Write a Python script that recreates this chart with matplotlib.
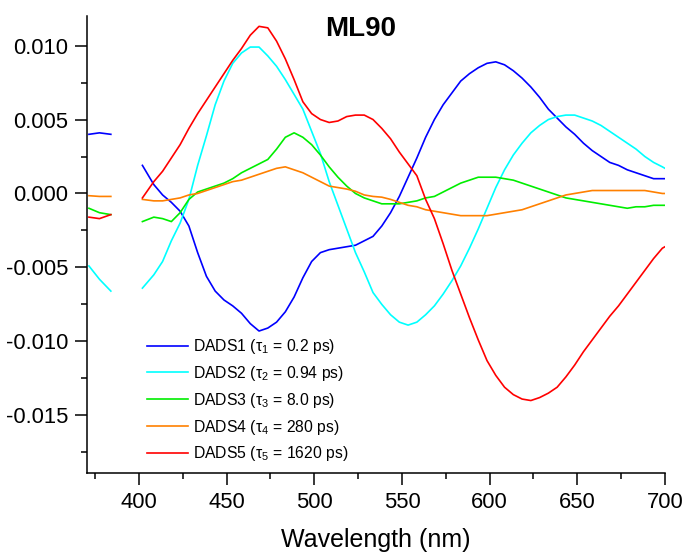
import numpy as np
import matplotlib
matplotlib.use('Agg')
import matplotlib.pyplot as plt
from matplotlib.ticker import MultipleLocator, FuncFormatter

plt.rcParams['font.family'] = ['Liberation Sans', 'DejaVu Sans']
plt.rcParams['mathtext.default'] = 'regular'

# ---- data ----
wl_short = [371.5, 377.5, 384.0]
wl_long = [402] + [408.5 + 5 * k for k in range(59)] + [700]

dads1_short = [0.0040, 0.0041, 0.0040]
dads2_short = [-0.0049, -0.0058, -0.0066]
dads3_short = [-0.0010, -0.0013, -0.00143]
dads4_short = [-0.00015, -0.0002, -0.0002]
dads5_short = [-0.0016, -0.0017, -0.00143]

dads1_long = [0.0019, 0.0006, -0.0001, -0.0006, -0.0012, -0.0022, -0.0040, -0.0056, -0.0066, -0.0072,
              -0.0076, -0.0081, -0.0088, -0.0093, -0.0091, -0.0087, -0.0080, -0.0070, -0.0057, -0.0046,
              -0.0040, -0.0038, -0.0037, -0.0036, -0.0035, -0.0032, -0.0029, -0.0022, -0.0013, -0.0002,
              0.0011, 0.0024, 0.0038, 0.0050, 0.0060, 0.0068, 0.0076, 0.0081, 0.0085, 0.0088,
              0.0089, 0.0087, 0.0083, 0.0078, 0.0072, 0.0065, 0.0057, 0.0051, 0.0045, 0.0040,
              0.0034, 0.0029, 0.0025, 0.0021, 0.0019, 0.0016, 0.0014, 0.0012, 0.0010, 0.0010, 0.0010]
dads2_long = [-0.0064, -0.0055, -0.0046, -0.0032, -0.0020, -0.0004, 0.0019, 0.0039, 0.0060, 0.0076,
              0.0088, 0.0095, 0.0099, 0.0099, 0.0093, 0.0086, 0.0077, 0.0067, 0.0057, 0.0042,
              0.0027, 0.0008, -0.0008, -0.0024, -0.0040, -0.0053, -0.0067, -0.0075, -0.0082, -0.0087,
              -0.0089, -0.0087, -0.0082, -0.0076, -0.0068, -0.0059, -0.0049, -0.0037, -0.0024, -0.0010,
              0.0004, 0.0016, 0.0026, 0.0034, 0.0041, 0.0046, 0.0050, 0.0052, 0.0053, 0.0053,
              0.0051, 0.0049, 0.0046, 0.0042, 0.0038, 0.0034, 0.0030, 0.0025, 0.0021, 0.0018, 0.0017]
dads3_long = [-0.0019, -0.0016, -0.0017, -0.0019, -0.0013, -0.0004, 0.0001, 0.0003, 0.0005, 0.0007,
              0.0010, 0.0014, 0.0017, 0.0020, 0.0023, 0.0030, 0.0038, 0.0041, 0.0038, 0.0033,
              0.0026, 0.0018, 0.0011, 0.0005, 0.0000, -0.0003, -0.0005, -0.0007, -0.0007, -0.0007,
              -0.0006, -0.0005, -0.0003, -0.0002, 0.0001, 0.0004, 0.0007, 0.0009, 0.0011, 0.0011,
              0.0011, 0.0010, 0.0009, 0.0007, 0.0005, 0.0003, 0.0001, -0.0001, -0.0003, -0.0004,
              -0.0005, -0.0006, -0.0007, -0.0008, -0.0009, -0.0010, -0.0009, -0.0009, -0.0008, -0.0008, -0.0008]
dads4_long = [-0.0004, -0.0005, -0.0005, -0.0004, -0.0003, -0.0001, 0.0000, 0.0002, 0.0004, 0.0006,
              0.0008, 0.0009, 0.0011, 0.0013, 0.0015, 0.0017, 0.0018, 0.0016, 0.0014, 0.0011,
              0.0008, 0.0005, 0.0004, 0.0003, 0.00015, -0.0001, -0.0002, -0.00025, -0.0004, -0.0006,
              -0.0008, -0.0009, -0.0011, -0.0012, -0.0013, -0.0014, -0.0015, -0.0015, -0.0015, -0.0015,
              -0.0014, -0.0013, -0.0012, -0.0011, -0.0009, -0.0007, -0.0005, -0.0003, -0.0001, 0.0000,
              0.0001, 0.0002, 0.0002, 0.0002, 0.0002, 0.0002, 0.0002, 0.0002, 0.0001, 0.0000, 0.0000]
dads5_long = [-0.0003, 0.0008, 0.0015, 0.0024, 0.0033, 0.0044, 0.0054, 0.0063, 0.0072, 0.0081,
              0.0090, 0.0098, 0.0107, 0.0113, 0.0112, 0.0103, 0.0091, 0.0077, 0.0062, 0.0054,
              0.0050, 0.0048, 0.0049, 0.0052, 0.0053, 0.0053, 0.0050, 0.0044, 0.0037, 0.0028,
              0.0020, 0.0012, -0.0004, -0.0017, -0.0034, -0.0052, -0.0068, -0.0084, -0.0099, -0.0113,
              -0.0123, -0.0131, -0.0136, -0.0139, -0.0140, -0.0138, -0.0135, -0.0131, -0.0124, -0.0116,
              -0.0107, -0.0099, -0.0091, -0.0083, -0.0076, -0.0068, -0.0060, -0.0052, -0.0044, -0.0037, -0.0036]

labels = ['DADS1 (τ$_1$ = 0.2 ps)', 'DADS2 (τ$_2$ = 0.94 ps)', 'DADS3 (τ$_3$ = 8.0 ps)',
          'DADS4 (τ$_4$ = 280 ps)', 'DADS5 (τ$_5$ = 1620 ps)']
colors = ['#0000ff', '#00ffff', '#00ee00', '#ff8000', '#ff0000']
title = 'ML90'
xlabel = 'Wavelength (nm)'

shorts = [dads1_short, dads2_short, dads3_short, dads4_short, dads5_short]
longs = [dads1_long, dads2_long, dads3_long, dads4_long, dads5_long]

# ---- figure ----
fig = plt.figure(figsize=(6.84, 5.56), dpi=100)
ax = fig.add_axes([87/684, 1 - 473/556, (665 - 87)/684, (473 - 16)/556])

wl = np.array(wl_short + [np.nan] + wl_long)
for s, l, lab, c in zip(shorts, longs, labels, colors):
    y = np.array(s + [np.nan] + l)
    ax.plot(wl, y, color=c, lw=1.2, label=lab)

ax.set_xlim(370.4, 700)
ax.set_ylim(-0.0189, 0.0120)
ax.xaxis.set_major_locator(MultipleLocator(50))
ax.xaxis.set_minor_locator(MultipleLocator(25))
ax.yaxis.set_major_locator(MultipleLocator(0.005))
ax.yaxis.set_minor_locator(MultipleLocator(0.0025))
ax.yaxis.set_major_formatter(FuncFormatter(lambda v, p: '0.000' if abs(v) < 1e-9 else f'{v:.3f}'))

for side in ['top', 'right']:
    ax.spines[side].set_visible(False)
for side in ['left', 'bottom']:
    ax.spines[side].set_linewidth(1.1)
ax.tick_params(which='major', direction='out', length=8.5, width=1.1, labelsize=15.8, pad=5)
ax.tick_params(which='minor', direction='out', length=4.3, width=1.1)

ax.set_xlabel(xlabel, fontsize=18, labelpad=11)
fig.text(361/684, 1 - 29/556, title, fontsize=20, fontweight='bold', ha='center', va='center')

ax.legend(loc='upper left', bbox_to_anchor=(147/684, 1 - 337/556), bbox_transform=fig.transFigure,
          frameon=False, fontsize=11.3, handlelength=2.6, handletextpad=0.32, labelspacing=0.5,
          borderpad=0, borderaxespad=0)

fig.savefig('out.png', dpi=100)
